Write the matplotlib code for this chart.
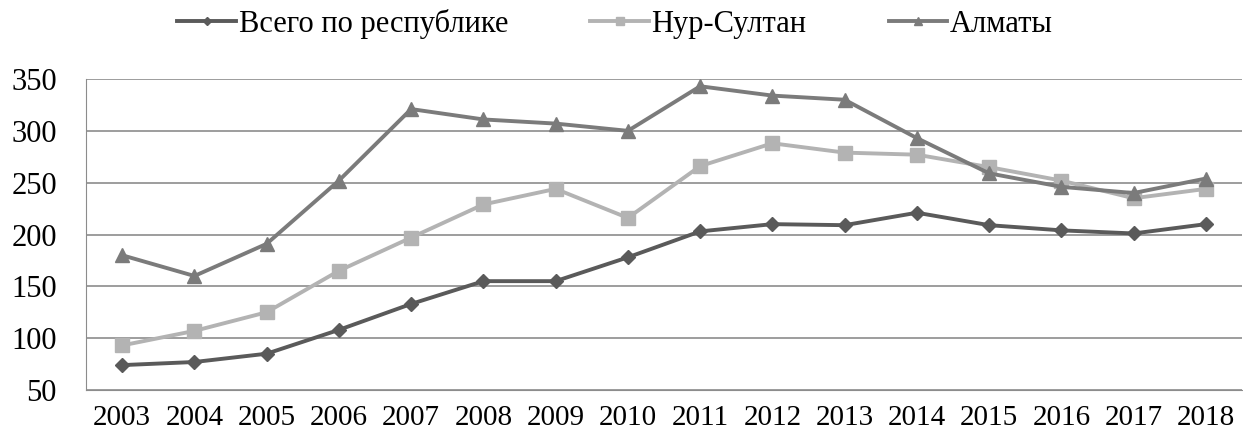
import matplotlib
matplotlib.use('Agg')
import matplotlib.pyplot as plt

# data
years = ['2003', '2004', '2005', '2006', '2007', '2008', '2009', '2010',
         '2011', '2012', '2013', '2014', '2015', '2016', '2017', '2018']
total = [74, 77, 85, 108, 133, 155, 155, 178, 203, 210, 209, 221, 209, 204, 201, 210]
nur_sultan = [93, 107, 125, 165, 197, 229, 244, 216, 266, 288, 279, 277, 265, 252, 235, 244]
almaty = [180, 160, 191, 252, 321, 311, 307, 300, 343, 334, 330, 293, 259, 246, 240, 254]

labels = ['Всего по республике', 'Нур-Султан', 'Алматы']

plt.rcParams['font.family'] = ['Liberation Serif', 'DejaVu Serif']

fig = plt.figure(figsize=(12.43, 4.38), dpi=100)
ax = fig.add_axes([0.0692, 0.1096, 0.9300, 0.7100])

x = range(len(years))
ax.plot(x, total, color='#5a5a5a', lw=2.8, marker='D', ms=7, label=labels[0])
ax.plot(x, nur_sultan, color='#b3b3b3', lw=2.8, marker='s', ms=10, label=labels[1])
ax.plot(x, almaty, color='#7b7b7b', lw=2.8, marker='^', ms=10, label=labels[2])

ax.set_xlim(-0.5, len(years) - 0.5)
ax.set_ylim(50, 350)
ax.set_yticks(range(50, 351, 50))
ax.set_xticks(list(x))
ax.set_xticklabels(years)
ax.yaxis.grid(True, color='#8c8c8c', lw=1.2)
ax.set_axisbelow(True)
for side in ['top', 'right']:
    ax.spines[side].set_visible(False)
ax.spines['left'].set_color('#8c8c8c')
ax.spines['bottom'].set_color('#8c8c8c')
ax.tick_params(axis='both', length=0, labelsize=22, colors='black')
ax.tick_params(axis='y', pad=21)
ax.tick_params(axis='x', pad=11, labelsize=21)

fig.legend(loc='center', bbox_to_anchor=(0.495, 0.945), ncol=3, frameon=False,
           fontsize=22, handlelength=1.9, handletextpad=0.1, columnspacing=2.7,
           markerscale=0.6)

fig.savefig('out.png', dpi=100)
